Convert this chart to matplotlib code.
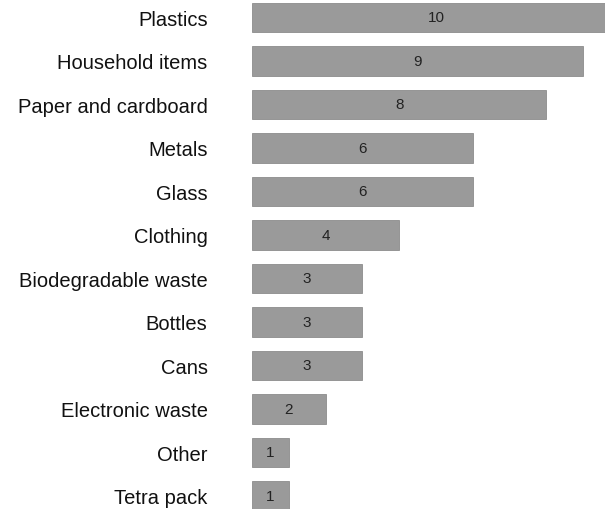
import numpy as np
import matplotlib.pyplot as plt

categories = ["Plastics", "Household items", "Paper and cardboard", "Metals", "Glass",
              "Clothing", "Biodegradable waste", "Bottles", "Cans", "Electronic waste",
              "Other", "Tetra pack"]
counts = [10, 9, 8, 6, 6, 4, 3, 3, 3, 2, 1, 1]

plt.rcParams['font.family'] = ['Liberation Sans', 'DejaVu Sans']

fig = plt.figure(figsize=(6.05, 5.1), dpi=100)
ax = fig.add_axes([252 / 605, 0, 1 - 252 / 605, 1])

y = np.arange(len(categories))
bars = ax.barh(y, counts, height=0.67, color="#9a9a9a", edgecolor="#8c8c8c", linewidth=0.6)
for b, v in zip(bars, counts):
    ax.text(b.get_width() / 2, b.get_y() + b.get_height() / 2, str(v),
            ha="center", va="center", fontsize=11, color="#222222")

ax.set_xlim(0, 353 / 36.8)
ax.set_ylim(11.3, -0.425)
ax.set_yticks(y)
ax.set_yticklabels(categories, fontsize=14.5, color="#111111")
ax.tick_params(axis="y", length=0, pad=32)
ax.set_xticks([])
for s in ax.spines.values():
    s.set_visible(False)

fig.savefig("out.png", dpi=100)
